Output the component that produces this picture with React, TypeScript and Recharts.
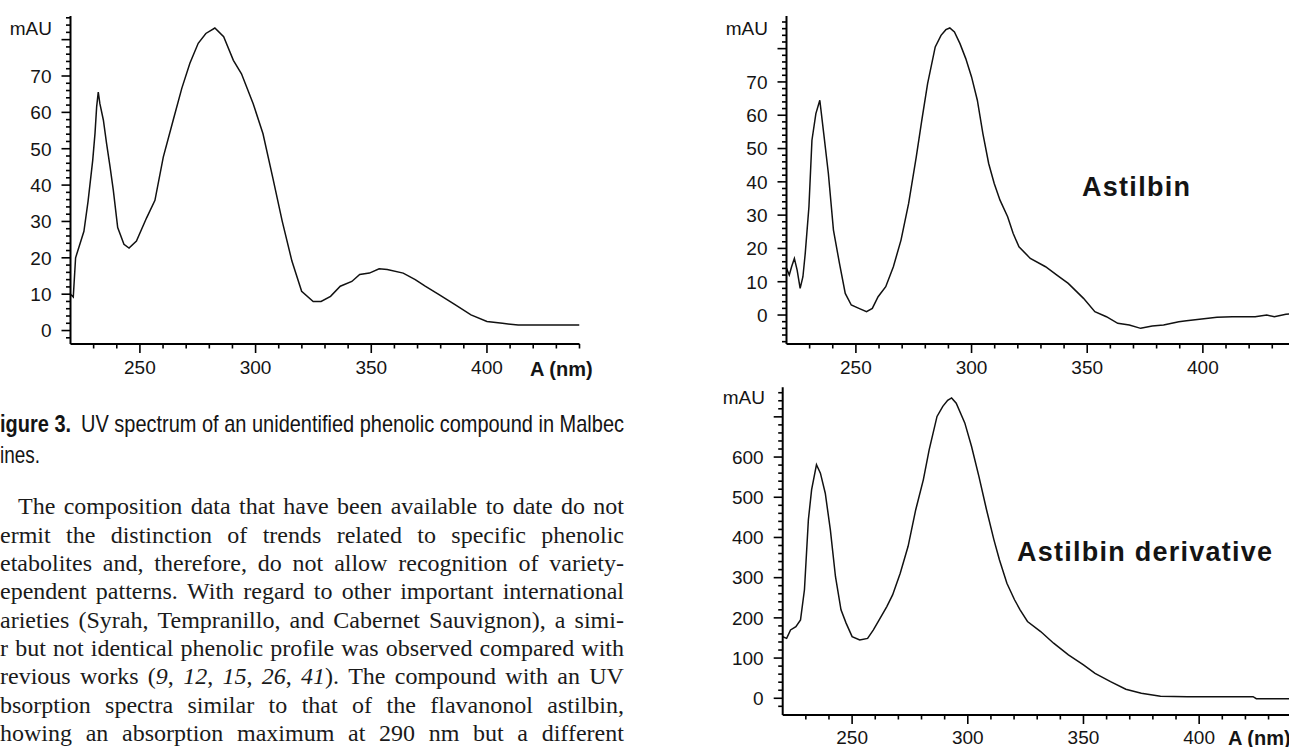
import React from 'react';
import { LineChart, Line, XAxis, YAxis } from 'recharts';

// ---------- data ----------
// Figure 3: unidentified phenolic compound (Malbec wines)
const unknownNm = [220, 221.2, 222.2, 225.8, 227.6, 229.6, 230.6, 231.3, 232, 232.7, 234.2, 235.6, 237.1, 238.5, 240.4, 243.1, 245.3, 248.5, 252.9, 256.5, 260.1, 264.4, 268.1, 271.6, 275.2, 278.5, 282.4, 286.2, 290.4, 293.9, 299, 303.2, 307.4, 311.5, 315.7, 319.9, 324.9, 328.3, 332.4, 336.6, 341.6, 345, 349.2, 353.4, 356.9, 363.8, 369, 373.3, 379.3, 386.2, 393.1, 400, 406.7, 413.5, 440];
const unknownMau = [10, 9.2, 20, 27.3, 35.6, 46.8, 54.3, 61.5, 65.6, 62.4, 57.9, 51.4, 45, 38.6, 28.3, 23.7, 22.7, 24.6, 31, 35.8, 47.7, 57.9, 66.6, 73.5, 79, 81.7, 83.2, 80.8, 74.3, 70.6, 62.3, 54.1, 42.1, 30.1, 19.1, 10.8, 8, 8, 9.4, 12.2, 13.5, 15.4, 15.8, 17, 16.8, 15.8, 14, 12.2, 9.9, 7.1, 4.3, 2.5, 2.0, 1.5, 1.5];

// Astilbin
const astilbinNm = [220, 221.2, 222.2, 223.4, 224.6, 225.9, 227.1, 228.1, 229.7, 231, 232.7, 234.4, 236.1, 238.1, 240.3, 242.9, 245.4, 248, 251.3, 254.6, 257.1, 259.6, 262.9, 266.2, 269.5, 272.8, 276.1, 278.5, 281, 284.3, 286.8, 288.9, 290.6, 292.6, 295, 297.5, 300, 302.5, 304.9, 307.4, 309.8, 312.3, 315.6, 318, 320.5, 325.4, 332, 336.9, 341.8, 348.4, 353.3, 358.3, 363.2, 368.2, 373.1, 378.1, 383, 389.6, 392.9, 399.5, 406.1, 412.7, 422.6, 427.6, 430.9, 435.9, 438, 440];
const astilbinMau = [14, 12, 14.5, 17, 13.5, 8, 11.5, 18.5, 32.5, 52.5, 60.5, 64.5, 54.5, 42.5, 25.5, 15.5, 6.5, 3, 2, 1, 2, 5.5, 8.5, 14.5, 22.5, 33.5, 47.5, 58.5, 69.5, 80.5, 84, 85.7, 86.2, 85, 81.5, 77, 71.5, 64.5, 54.5, 45.5, 39.5, 34.5, 29.5, 24.5, 20.5, 17, 14.5, 12, 9.5, 5, 1, -0.5, -2.5, -3, -4, -3.3, -3, -2, -1.7, -1.2, -0.7, -0.5, -0.5, 0, -0.5, 0.2, 0.4, 0.5];

// Astilbin derivative
const derivNm = [220, 221.7, 223.4, 225.7, 227.7, 229.4, 231.1, 232.5, 234.6, 236.3, 238.4, 240.6, 242.8, 245.2, 247.4, 250, 253.3, 256.7, 259.2, 261.7, 265, 267.5, 270.8, 274.2, 277.5, 280.8, 283.3, 286.7, 289.2, 291.3, 293, 295, 298.7, 301.6, 304.8, 308.1, 311.3, 313.7, 316.9, 320.2, 322.6, 325.8, 331.5, 337.1, 343.5, 350, 355, 361.7, 368.3, 375, 383.3, 394.9, 423.3, 424.7, 440];
const derivMau = [153, 149, 170, 178, 195, 270, 444, 519, 581, 560, 510, 419, 303, 220, 187, 153.5, 145, 149, 170, 195, 228, 257, 311, 378, 469, 544, 618, 701, 726, 741, 747, 734, 685, 627, 552, 469, 394, 344, 286, 245, 220, 191, 166, 137, 108, 83, 62, 41.5, 22.4, 12.4, 5, 4, 4, -1, -1];

// axis ticks
const xMajor = [250, 300, 350, 400];
const xLabels = [250, 300, 350, 400];
const yMajorSmall = [0, 10, 20, 30, 40, 50, 60, 70, 80];
const yLabelsSmall = [0, 10, 20, 30, 40, 50, 60, 70];
const yMajorLarge = [0, 100, 200, 300, 400, 500, 600, 700];
const yLabelsLarge = [0, 100, 200, 300, 400, 500, 600];

const bodyLines = [
  'The composition data that have been available to date do not',
  'ermit the distinction of trends related to specific phenolic',
  'etabolites and, therefore, do not allow recognition of variety-',
  'ependent patterns. With regard to other important international',
  'arieties (Syrah, Tempranillo, and Cabernet Sauvignon), a simi-',
  'r but not identical phenolic profile was observed compared with',
  'revious works (_9_, _12_, _15_, _26_, _41_). The compound with an UV',
  'bsorption spectra similar to that of the flavanonol astilbin,',
  'howing an absorption maximum at 290 nm but a different',
];

// ---------- helpers ----------
const range = (a: number, b: number, s: number) => {
  const r: number[] = [];
  for (let v = a; v <= b + 1e-9; v += s) r.push(Math.round(v * 100) / 100);
  return r;
};
const xTicks = range(230, 440, 10);
const yTicks1 = range(-2, 86, 2);
const yTicks2 = range(-8, 88, 2);
const yTicks3 = range(-20, 760, 20);

const SANS = '"Liberation Sans", Arial, Helvetica, sans-serif';
const SERIF = '"Liberation Serif", "Times New Roman", serif';
const INK = '#141414';

const makeXTick = (labelOffset: number) => (props: any) => {
  const { x, y, payload } = props;
  const v = payload.value;
  const major = xMajor.includes(v);
  return (
    <g>
      <line x1={x} y1={y} x2={x} y2={y + (major ? 9 : 4.5)} stroke="#000" strokeWidth={1.6} />
      {xLabels.includes(v) && (
        <text x={x} y={y + labelOffset} textAnchor="middle" fontSize={19} fontFamily={SANS} fill={INK}>
          {v}
        </text>
      )}
    </g>
  );
};

const makeYTick = (major: number[], labels: number[]) => (props: any) => {
  const { x, y, payload } = props;
  const v = payload.value;
  const isMajor = major.includes(v);
  return (
    <g>
      <line x1={x - (isMajor ? 9 : 4.5)} y1={y} x2={x} y2={y} stroke="#000" strokeWidth={1.6} />
      {labels.includes(v) && (
        <text x={x - 19} y={y + 6.8} textAnchor="end" fontSize={19} fontFamily={SANS} fill={INK}>
          {v}
        </text>
      )}
    </g>
  );
};

type SpecProps = {
  nm: number[];
  mau: number[];
  left: number;
  top: number;
  width: number;
  height: number;
  margin: { top: number; right: number; bottom: number; left: number };
  yAxisWidth: number;
  xAxisHeight: number;
  yDomain: [number, number];
  yTicks: number[];
  yMajor: number[];
  yLabels: number[];
  labelOffset: number;
};

const Spectrum = (p: SpecProps) => {
  const data = p.nm.map((x, i) => ({ nm: x, mau: p.mau[i] }));
  return (
    <div style={{ position: 'absolute', left: p.left, top: p.top }}>
      <LineChart width={p.width} height={p.height} data={data} margin={p.margin}>
        <XAxis
          dataKey="nm"
          type="number"
          domain={[220, 440]}
          allowDataOverflow
          ticks={xTicks}
          interval={0}
          tickSize={0}
          tickMargin={0}
          tickLine={false}
          axisLine={{ stroke: '#000', strokeWidth: 2 }}
          height={p.xAxisHeight}
          tick={makeXTick(p.labelOffset)}
        />
        <YAxis
          type="number"
          domain={p.yDomain}
          allowDataOverflow
          ticks={p.yTicks}
          interval={0}
          tickSize={0}
          tickMargin={0}
          tickLine={false}
          axisLine={{ stroke: '#000', strokeWidth: 2 }}
          width={p.yAxisWidth}
          tick={makeYTick(p.yMajor, p.yLabels)}
        />
        <Line
          type="linear"
          dataKey="mau"
          stroke="#111"
          strokeWidth={1.5}
          dot={false}
          activeDot={false}
          isAnimationActive={false}
        />
      </LineChart>
    </div>
  );
};

const renderWord = (w: string, i: number) => (
  <span key={i}>
    {w.split('_').map((s, j) => (j % 2 ? <i key={j}>{s}</i> : <React.Fragment key={j}>{s}</React.Fragment>))}
  </span>
);

export default function App() {
  return (
    <div
      style={{
        position: 'absolute',
        left: 0,
        top: 0,
        width: 1289,
        height: 747,
        overflow: 'hidden',
        background: '#fff',
      }}
    >
      <Spectrum
        nm={unknownNm}
        mau={unknownMau}
        left={0}
        top={0}
        width={620}
        height={390}
        margin={{ top: 16, right: 40.5, bottom: 0, left: 0 }}
        yAxisWidth={70.5}
        xAxisHeight={46}
        yDomain={[-3.7, 86.5]}
        yTicks={yTicks1}
        yMajor={yMajorSmall}
        yLabels={yLabelsSmall}
        labelOffset={30}
      />
      <Spectrum
        nm={astilbinNm}
        mau={astilbinMau}
        left={690}
        top={0}
        width={620}
        height={390}
        margin={{ top: 16, right: 14.6, bottom: 0, left: 0 }}
        yAxisWidth={96.5}
        xAxisHeight={46}
        yDomain={[-8.7, 89.8]}
        yTicks={yTicks2}
        yMajor={yMajorSmall}
        yLabels={yLabelsSmall}
        labelOffset={29.5}
      />
      <Spectrum
        nm={derivNm}
        mau={derivMau}
        left={690}
        top={370}
        width={620}
        height={377}
        margin={{ top: 17.3, right: 18.3, bottom: 0, left: 0 }}
        yAxisWidth={92.7}
        xAxisHeight={32}
        yDomain={[-41.6, 773.5]}
        yTicks={yTicks3}
        yMajor={yMajorLarge}
        yLabels={yLabelsLarge}
        labelOffset={28.5}
      />

      {/* body text */}
      {bodyLines.map((line, k) => (
        <div
          key={k}
          style={{
            position: 'absolute',
            left: k === 0 ? 18 : 0,
            top: 507 + 28.3 * k - 14.6,
            width: k === 0 ? 606 : 624,
            height: 28,
            lineHeight: '28px',
            display: 'flex',
            justifyContent: 'space-between',
            fontFamily: SERIF,
            fontSize: 24,
            color: '#1a1a1a',
            whiteSpace: 'nowrap',
          }}
        >
          {line.split(' ').map(renderWord)}
        </div>
      ))}

      {/* overlay texts */}
      <svg
        width={1289}
        height={747}
        style={{ position: 'absolute', left: 0, top: 0, pointerEvents: 'none' }}
      >
        <g fontFamily={SANS} fill={INK}>
          <text x={52} y={35} textAnchor="end" fontSize={19}>mAU</text>
          <text x={768} y={35} textAnchor="end" fontSize={19}>mAU</text>
          <text x={765} y={403.5} textAnchor="end" fontSize={19}>mAU</text>
          <text x={530} y={375.5} fontSize={20} fontWeight="bold">A (nm)</text>
          <text x={1228} y={744.5} fontSize={20} fontWeight="bold">A (nm)</text>
          <text x={1082} y={196} fontSize={27} fontWeight="bold" textLength={108} lengthAdjust="spacing">
            Astilbin
          </text>
          <text x={1017} y={561} fontSize={27} fontWeight="bold" textLength={255} lengthAdjust="spacing">
            Astilbin derivative
          </text>
          <text x={0} y={432} fontSize={24} textLength={624} lengthAdjust="spacingAndGlyphs">
            <tspan fontWeight="bold">igure 3.</tspan>
            <tspan dx={12}>UV spectrum of an unidentified phenolic compound in Malbec</tspan>
          </text>
          <text x={0} y={463} fontSize={24} textLength={40} lengthAdjust="spacingAndGlyphs">
            ines.
          </text>
        </g>
      </svg>
    </div>
  );
}
